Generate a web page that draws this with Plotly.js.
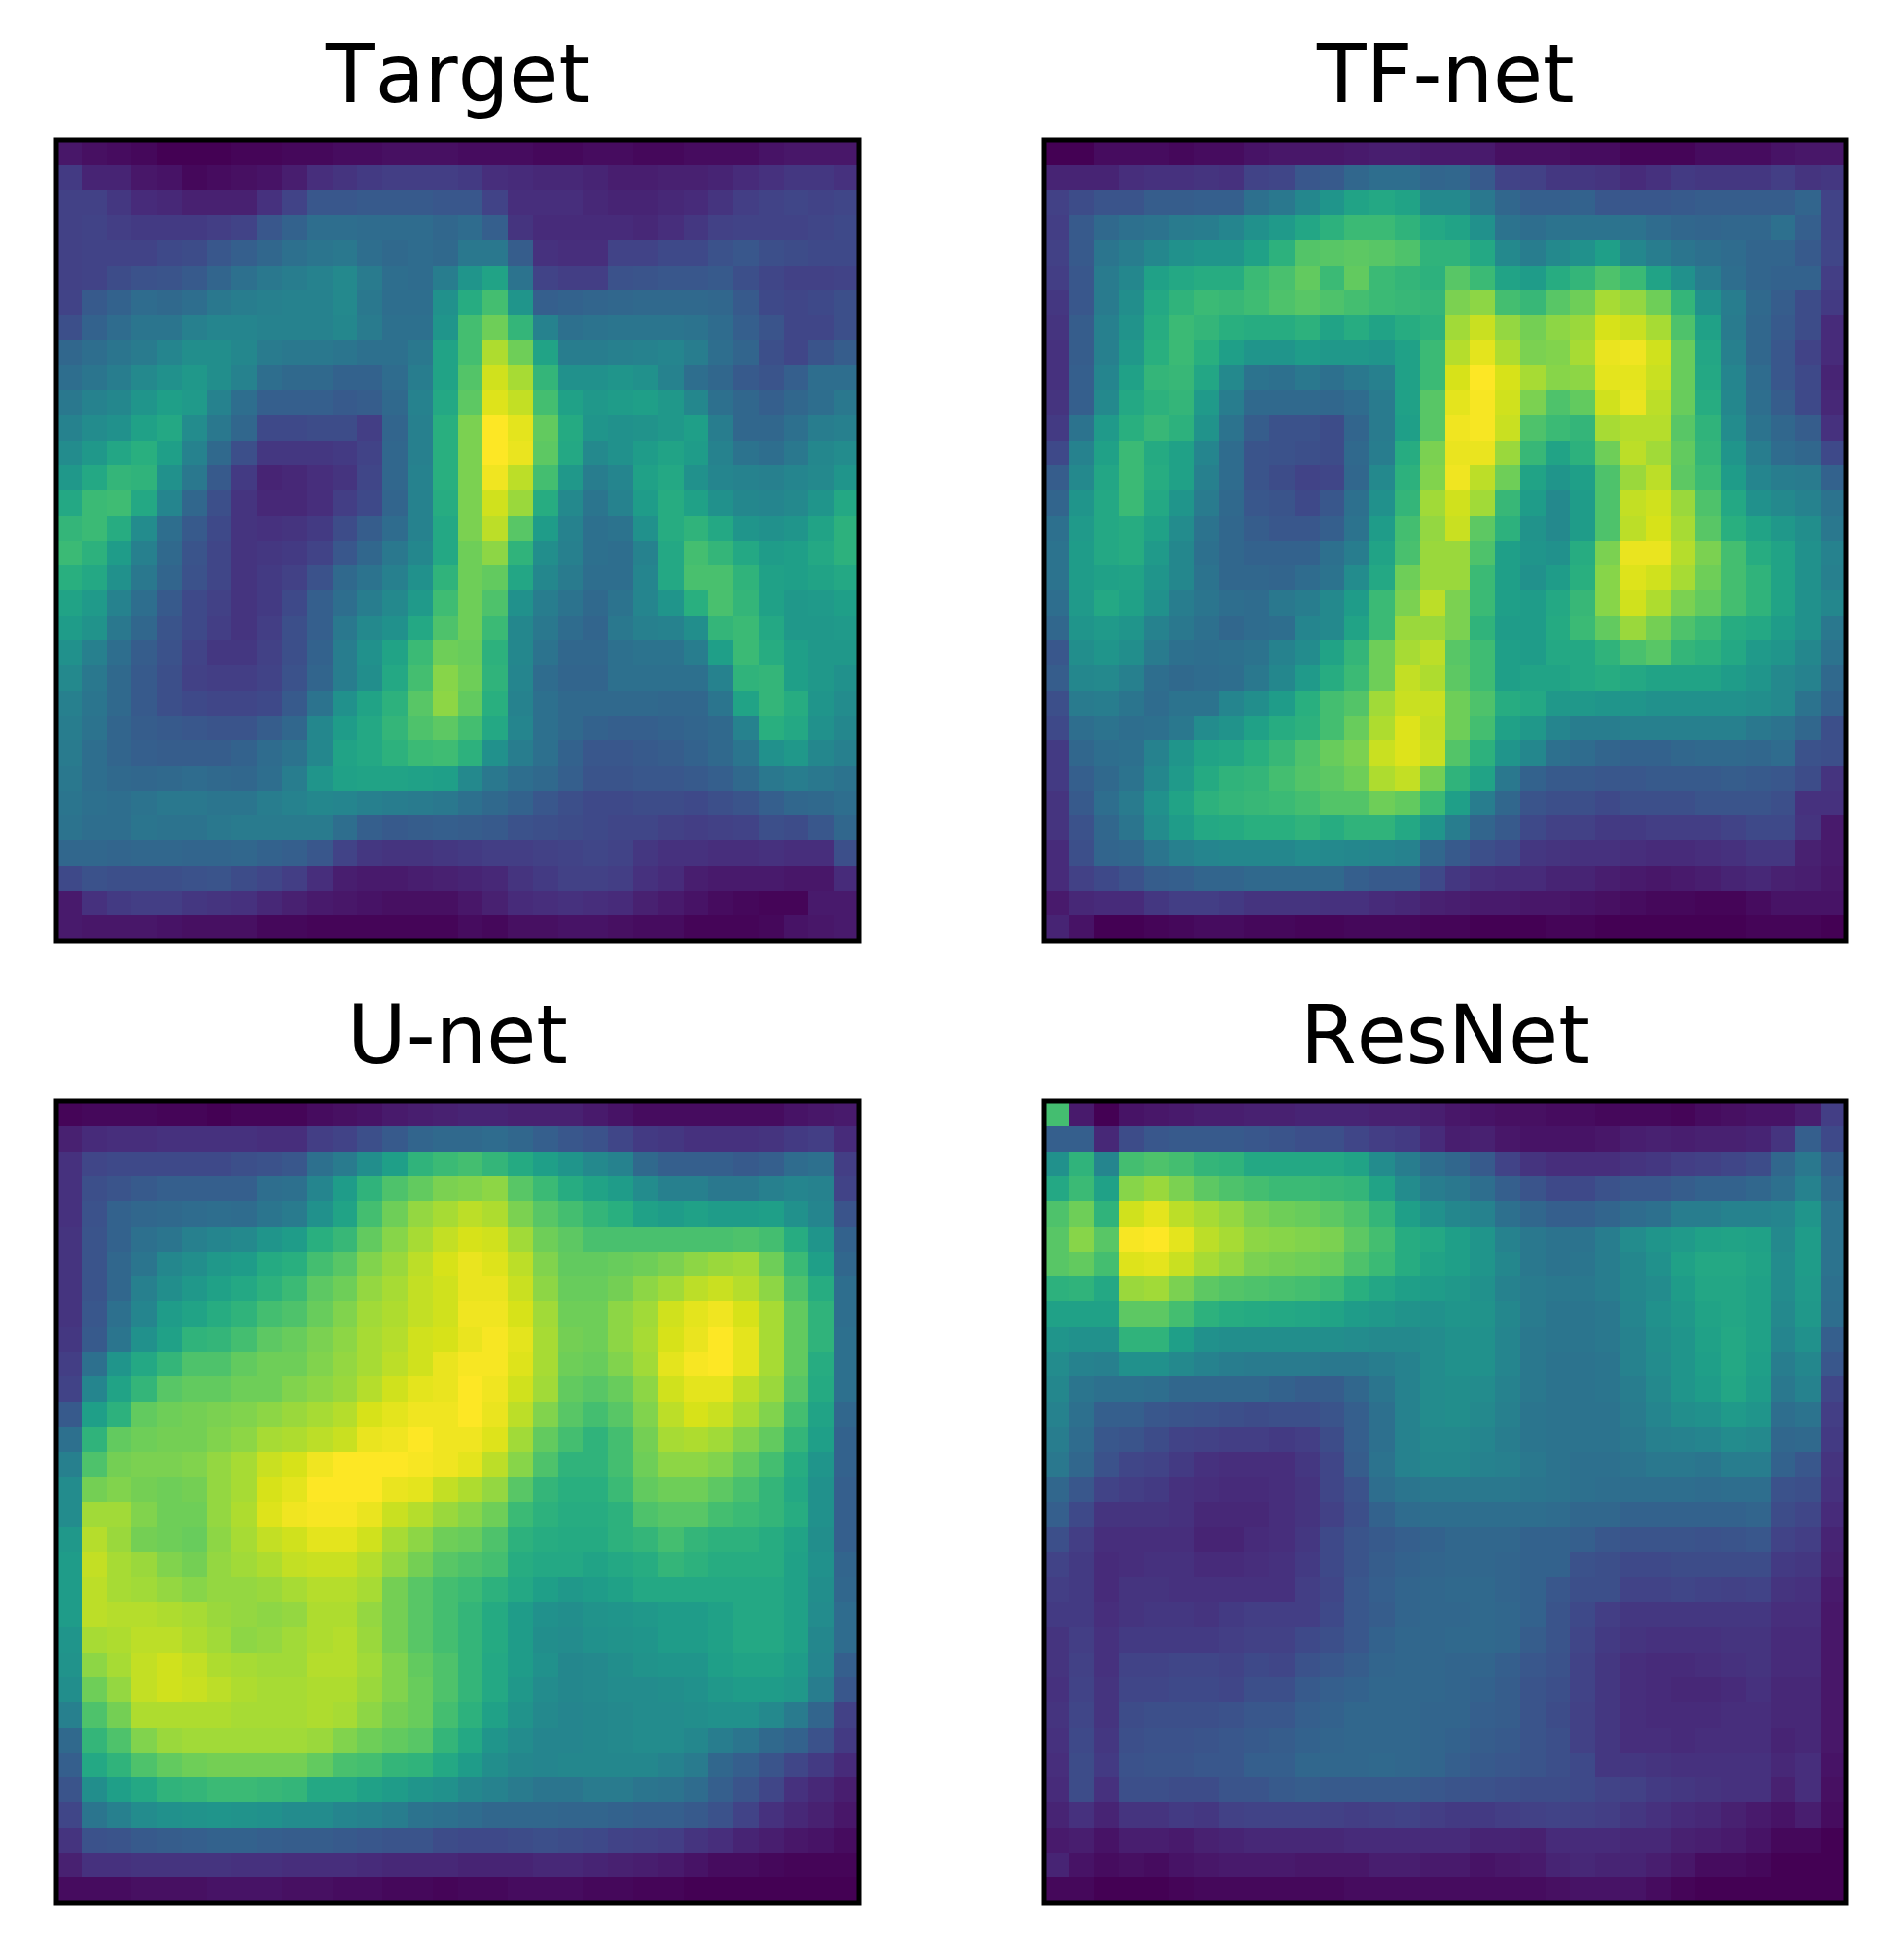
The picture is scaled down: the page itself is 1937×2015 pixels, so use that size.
<!DOCTYPE html>
<html>
<head>
<meta charset="utf-8">
<script src="https://cdn.plot.ly/plotly-3.0.1.min.js"></script>
<style>html,body{margin:0;padding:0;background:#fff}#chart{width:1937px;height:2015px}svg text{font-kerning:none}</style>
</head>
<body>
<div id="chart"></div>
<script>
const panelTitles = ["Target", "TF-net", "U-net", "ResNet"];

const target = [
[6,4,3,2,0,0,0,1,1,2,2,3,3,4,4,4,3,3,3,2,2,3,3,2,2,3,3,3,5,6,6,6],
[17,10,10,6,5,2,3,4,5,8,13,15,17,18,18,18,17,13,12,11,11,10,8,8,9,9,10,12,14,16,16,14],
[19,19,16,12,11,9,9,9,14,20,27,27,28,28,28,27,27,20,13,13,13,11,10,10,11,12,15,18,20,21,20,21],
[19,20,18,17,17,17,18,20,27,31,36,36,35,35,35,33,35,30,15,12,12,12,12,11,13,16,19,20,20,20,21,22],
[19,20,20,20,22,23,27,30,33,37,39,40,36,34,35,34,40,40,29,14,13,13,20,20,22,22,25,27,24,23,22,22],
[19,20,23,25,26,28,32,37,40,42,44,47,41,36,35,42,52,58,38,20,18,18,25,26,27,27,28,24,21,19,19,20],
[20,28,31,35,34,36,40,42,43,44,44,47,40,36,36,50,62,70,52,30,31,32,33,34,34,34,33,28,22,21,22,24],
[24,31,35,39,39,43,45,45,44,44,44,46,41,37,37,52,70,78,66,44,37,38,39,39,39,38,35,30,26,21,21,24],
[33,36,39,41,45,49,49,46,41,40,40,39,37,37,40,58,70,88,78,58,42,42,43,44,45,42,36,32,24,21,26,29],
[36,39,42,47,50,53,49,44,36,34,34,31,31,35,42,58,73,93,87,66,50,50,52,50,44,36,33,28,26,30,36,36],
[40,44,46,52,56,54,44,36,30,30,30,28,29,34,44,60,75,95,91,70,57,53,55,56,53,46,37,33,30,33,36,40],
[44,48,50,57,60,48,40,33,22,22,23,23,18,32,43,63,80,100,96,76,61,52,50,51,53,56,42,33,33,37,42,43],
[48,53,59,63,56,44,34,24,16,16,16,17,20,33,43,63,80,100,97,75,60,47,50,55,58,55,44,38,36,40,46,48],
[53,60,66,65,50,40,28,17,10,11,13,15,21,33,44,63,80,98,90,70,53,42,45,57,60,50,45,44,43,45,47,52],
[60,68,69,60,45,33,24,15,11,11,13,18,22,32,44,62,80,93,85,62,47,39,44,55,62,57,50,46,45,47,52,60],
[66,68,62,48,36,28,22,15,14,15,17,23,29,35,44,60,80,90,74,55,44,37,38,50,62,65,60,52,50,52,58,64],
[68,64,55,43,34,26,21,15,16,17,20,27,33,40,46,60,78,83,65,49,43,37,36,44,60,70,66,60,55,56,60,64],
[63,60,50,40,32,25,21,15,17,19,25,34,38,43,50,65,78,76,59,46,41,36,36,45,60,71,71,65,57,56,58,60],
[58,54,44,36,28,22,19,15,17,22,30,36,42,47,54,69,78,72,50,42,38,34,38,45,52,63,71,66,57,53,54,56],
[55,51,40,33,26,22,18,15,18,24,30,40,47,50,60,72,78,68,46,40,35,32,40,43,44,49,66,68,60,53,53,54],
[50,43,36,29,25,20,16,16,19,24,31,42,50,58,68,78,77,64,46,38,33,33,37,38,38,42,56,68,62,56,53,53],
[47,40,34,28,24,19,18,18,20,25,32,42,49,60,70,82,78,65,45,35,32,32,37,37,37,37,44,65,66,56,53,50],
[43,39,34,28,24,22,21,21,22,28,38,50,58,64,74,83,76,63,44,37,34,34,34,34,33,33,39,58,66,62,52,48],
[42,38,32,29,28,27,26,26,29,33,46,55,60,66,72,75,70,60,45,37,34,31,30,30,31,32,34,44,63,60,50,46],
[41,36,32,30,29,29,29,31,35,38,46,58,60,64,68,69,64,50,42,37,31,27,27,28,29,31,34,39,50,53,46,43],
[40,36,34,33,34,35,34,33,36,42,52,57,58,58,57,56,47,40,36,34,30,26,26,27,27,28,30,34,40,42,40,38],
[39,37,36,38,40,40,39,39,42,44,46,45,43,42,41,40,37,34,31,27,24,22,22,23,23,22,24,26,30,33,34,36],
[38,36,36,39,38,38,40,41,41,41,41,36,30,28,29,30,29,28,25,24,23,22,21,21,19,18,19,20,24,23,27,33],
[33,33,32,33,33,32,32,33,31,30,27,20,16,15,15,16,17,18,18,19,20,21,20,16,14,14,13,13,14,13,13,24],
[22,25,24,24,24,25,26,23,21,18,13,8,7,7,8,9,10,11,15,17,19,19,18,14,12,8,7,7,7,6,6,12],
[7,14,17,18,18,16,15,14,11,9,7,6,5,4,4,4,6,9,12,13,14,13,12,9,7,5,3,2,1,1,7,7],
[7,6,6,6,5,4,4,4,2,2,1,1,1,1,1,1,3,2,4,4,5,5,4,3,3,1,1,1,2,5,6,7]
];

const tfNet = [
[0,0,3,3,3,2,3,3,5,6,6,6,7,8,8,7,7,7,4,4,4,3,3,1,1,1,3,3,3,5,6,6],
[10,10,10,13,14,14,15,14,20,21,27,28,33,36,36,32,33,28,20,19,16,16,15,12,14,17,16,16,16,18,15,16],
[19,23,26,26,29,29,30,30,37,40,46,52,58,60,58,47,47,40,33,30,30,31,27,27,27,28,29,29,29,29,32,20],
[18,28,34,37,38,41,42,45,50,54,59,64,68,68,65,60,58,50,38,36,38,38,38,38,35,33,32,33,33,37,30,20],
[19,28,39,42,46,50,52,52,57,64,73,74,75,74,72,65,65,60,47,42,47,50,56,46,42,39,37,35,32,32,28,21],
[18,27,41,46,57,60,62,62,68,71,76,68,76,68,66,64,74,68,58,55,62,66,72,68,58,50,42,36,32,31,31,18],
[16,27,41,49,60,65,68,67,69,72,74,72,70,68,67,66,80,83,70,67,74,78,87,84,78,66,50,42,34,29,23,17],
[15,29,43,51,62,68,66,63,62,62,64,58,62,58,62,64,86,92,84,79,83,85,94,92,87,72,57,41,33,28,23,12],
[14,29,43,53,63,68,63,56,52,52,55,53,53,52,57,68,89,96,88,80,81,87,97,98,93,77,59,43,33,27,20,12],
[14,30,45,57,66,67,59,47,38,37,40,37,40,43,57,68,94,100,94,87,82,83,96,96,92,77,60,45,35,27,22,10],
[15,30,47,60,64,66,54,42,34,34,34,33,35,41,57,74,96,99,93,80,72,76,93,97,90,77,62,46,36,29,22,11],
[17,38,54,63,67,64,51,38,29,25,25,23,32,41,56,74,98,99,92,72,68,66,87,89,89,74,65,48,38,33,29,14],
[22,44,57,68,61,57,45,35,26,25,24,23,34,42,62,80,97,97,85,67,58,64,78,90,86,76,66,52,42,35,33,22],
[29,47,59,68,62,57,43,35,26,23,20,21,33,47,64,81,98,90,78,58,52,56,72,85,90,75,68,55,45,42,41,31],
[32,52,60,68,60,52,41,34,27,26,22,27,37,50,66,86,93,86,67,55,47,55,72,91,93,85,72,60,50,47,44,38],
[37,54,60,62,57,48,38,33,29,27,27,30,38,55,70,84,92,75,64,51,47,55,72,90,94,87,74,63,58,53,49,40],
[38,55,60,62,54,46,37,33,31,31,31,37,42,58,71,85,85,72,56,52,50,62,80,97,97,89,80,70,62,58,50,44],
[38,55,57,58,52,46,38,33,33,32,35,38,48,60,78,85,85,68,56,50,55,63,82,95,93,87,78,70,65,58,50,43],
[36,54,60,57,50,42,39,36,35,40,42,47,55,68,80,90,80,68,56,55,60,67,82,93,88,80,76,70,65,58,50,46],
[33,52,54,52,44,40,37,33,35,36,45,47,58,68,85,85,80,65,55,55,61,68,76,85,79,72,68,62,60,55,50,40],
[27,49,52,49,41,37,36,37,38,44,48,58,66,78,87,90,74,69,56,55,60,60,65,71,74,66,64,60,54,52,46,38],
[29,46,47,43,36,34,35,36,40,46,54,62,68,78,91,88,75,69,56,58,58,60,62,60,58,58,58,55,52,47,44,34],
[24,41,42,39,35,38,38,45,49,55,63,70,73,86,92,92,78,72,62,60,53,53,52,52,50,50,50,50,49,47,38,31],
[22,36,38,36,37,40,48,51,57,62,64,70,77,88,95,91,78,70,57,53,45,42,42,43,43,43,43,43,40,38,33,24],
[17,33,36,37,44,52,58,59,63,67,72,77,80,92,95,92,73,64,52,46,37,35,32,31,31,33,34,34,33,35,25,24],
[17,30,34,38,46,54,61,65,66,70,73,75,78,88,91,79,65,58,40,31,28,28,27,27,28,28,28,29,28,27,23,15],
[15,28,36,41,50,58,64,66,67,68,70,73,73,78,76,68,56,42,33,26,24,24,22,24,24,24,26,26,26,24,14,14],
[15,25,33,39,48,55,60,61,63,63,65,62,65,65,60,52,42,32,28,22,19,19,17,17,18,18,18,20,22,22,15,7],
[12,24,32,33,39,43,45,46,46,46,48,47,46,45,44,33,28,24,22,16,15,14,14,13,12,12,13,14,16,16,9,7],
[12,19,22,25,29,30,32,32,34,34,34,34,30,28,28,22,16,13,12,12,10,10,8,7,6,7,8,10,11,9,8,6],
[7,11,12,12,16,18,18,17,15,15,15,14,14,12,11,9,8,7,7,6,6,5,4,3,2,2,1,1,3,5,5,5],
[10,5,0,0,1,2,3,3,2,2,1,1,2,2,2,1,1,0,0,0,1,1,0,0,0,0,0,0,1,1,1,0]
];

const uNet = [
[1,2,2,2,1,1,0,1,1,1,3,4,5,7,8,9,10,10,9,9,9,7,5,3,3,3,3,3,3,5,6,7],
[9,12,13,13,14,14,14,14,13,13,18,20,24,28,32,34,34,35,33,30,27,25,21,17,16,14,14,14,15,17,18,12],
[14,21,22,22,22,22,22,24,25,27,37,41,49,56,65,68,70,66,61,56,52,47,44,34,30,30,30,28,30,35,37,18],
[14,24,26,28,30,30,30,30,36,37,45,55,65,72,76,80,81,83,74,68,62,58,55,48,43,43,40,40,43,45,44,20],
[14,25,31,33,34,35,36,35,39,41,50,58,70,78,84,87,90,88,80,74,70,66,63,57,55,57,55,55,56,50,45,26],
[15,26,31,37,39,43,45,47,52,55,63,67,76,82,87,91,94,93,86,78,75,71,71,71,71,71,71,72,70,62,52,31],
[15,26,33,39,46,49,53,55,61,63,70,74,81,85,90,94,97,95,90,81,76,76,77,78,80,83,85,86,78,68,56,33],
[15,26,33,43,49,53,57,60,64,68,75,78,84,87,91,93,97,97,92,83,77,77,79,83,86,90,92,89,83,72,62,36],
[15,27,37,45,55,58,62,65,70,72,77,81,86,88,91,93,98,98,94,86,78,78,83,86,93,96,98,94,87,76,65,36],
[16,28,39,50,57,65,66,70,75,77,80,83,87,89,93,94,97,99,96,87,79,78,83,87,94,97,100,96,87,76,65,37],
[18,37,52,60,66,72,72,76,78,78,81,84,87,90,93,97,99,99,95,87,78,77,81,86,96,99,100,96,87,76,62,37],
[20,45,58,66,74,76,76,78,78,81,83,85,89,93,96,97,100,98,93,86,76,74,77,83,93,96,96,90,85,74,61,37],
[28,56,64,76,78,79,80,81,83,85,87,89,94,96,98,98,100,97,90,81,74,70,74,81,90,94,92,87,81,70,58,33],
[37,65,76,78,79,79,81,83,87,88,90,92,97,98,100,98,98,95,86,76,70,65,70,79,87,88,86,81,76,66,56,31],
[43,72,79,80,80,81,84,87,92,94,98,100,100,100,99,98,96,90,82,72,65,65,70,78,83,83,81,76,70,62,52,31],
[48,79,81,79,78,79,84,87,94,96,100,100,100,97,96,91,88,84,74,66,63,63,68,76,78,78,75,71,66,60,50,30],
[48,86,86,81,78,78,84,88,95,98,99,99,97,92,89,85,82,78,68,64,62,62,64,72,74,74,70,68,66,62,50,30],
[53,89,85,79,78,77,83,87,91,93,96,96,93,87,83,78,77,72,64,62,61,61,64,66,70,66,64,64,62,58,49,30],
[55,91,87,85,81,79,84,86,88,91,92,92,89,84,79,74,72,70,62,60,60,58,60,62,66,64,62,62,62,57,50,32],
[55,90,87,86,84,82,84,84,85,87,89,89,87,79,74,70,68,64,60,56,53,55,57,60,60,60,60,60,60,57,49,33],
[55,90,89,89,88,87,85,84,83,84,88,88,84,79,74,70,66,61,55,50,49,51,52,53,55,55,57,60,60,57,48,35],
[52,87,88,90,90,88,86,83,84,86,88,89,85,79,74,70,66,61,55,49,48,50,51,52,55,55,57,60,60,57,46,35],
[51,83,87,91,93,91,88,87,86,86,89,89,86,81,76,72,66,60,55,50,46,47,49,51,52,52,56,58,58,55,45,30],
[49,78,84,91,93,92,90,88,87,87,88,88,85,81,77,72,66,60,53,48,46,47,48,48,49,50,53,55,55,53,42,27],
[43,72,79,88,88,88,88,87,87,87,88,87,83,79,77,70,64,57,51,47,45,46,47,48,48,49,50,50,47,41,32,19],
[34,66,72,81,85,86,86,86,86,86,85,81,78,76,74,66,60,52,48,45,45,46,47,48,48,46,42,39,34,31,25,17],
[30,60,65,72,76,78,79,79,79,79,76,71,70,66,65,60,55,49,46,45,46,46,46,46,44,41,33,30,26,21,17,12],
[26,49,56,60,65,66,68,68,67,66,60,60,57,55,52,50,46,44,41,39,39,41,41,39,38,35,30,26,21,14,11,8],
[21,39,43,48,50,51,52,51,50,48,48,45,44,42,38,37,35,33,33,33,32,32,31,30,30,28,25,20,14,11,9,6],
[15,25,26,28,29,30,31,31,30,29,29,28,27,26,26,23,22,22,23,24,23,22,20,19,18,15,13,10,8,6,5,3],
[9,14,14,15,15,15,15,14,14,13,13,13,12,11,11,11,10,10,10,11,11,10,9,8,7,5,3,3,2,1,1,1],
[3,3,3,4,4,4,5,5,5,4,4,3,3,2,2,1,2,2,3,3,3,2,2,1,1,0,0,0,0,0,0,0]
];

const resNet = [
[70,7,0,5,6,7,8,8,9,9,10,10,10,9,9,8,6,5,4,4,3,3,2,2,2,1,3,4,5,5,8,18],
[30,30,11,23,27,28,28,28,27,26,24,24,21,18,17,12,8,9,6,5,5,5,6,8,9,8,9,9,10,15,30,22],
[50,65,45,70,72,70,66,65,60,60,60,60,58,48,42,36,33,28,20,15,13,13,13,15,16,18,19,21,23,33,40,30],
[60,68,57,82,85,80,75,72,70,68,68,67,66,58,48,42,40,36,30,26,22,22,25,27,27,29,31,31,33,37,44,34],
[72,78,65,93,96,90,87,84,80,78,77,75,72,66,56,50,46,44,37,33,30,30,32,35,37,42,42,44,44,45,52,38],
[74,82,74,99,100,96,90,87,83,82,81,80,75,70,62,60,56,52,44,40,38,38,42,48,52,54,57,58,57,47,55,38],
[74,76,70,95,96,92,87,84,80,79,78,77,72,68,62,58,56,52,46,40,38,39,42,46,50,57,60,60,58,48,55,38],
[64,65,60,85,86,80,75,73,72,71,70,68,63,59,56,55,53,50,44,41,40,40,42,46,48,55,59,59,57,48,54,37],
[57,57,57,75,75,70,64,62,61,60,59,58,55,53,51,50,52,51,46,41,39,39,40,45,50,53,58,59,57,47,53,36],
[52,50,50,65,65,56,50,49,49,49,49,49,48,47,47,48,50,50,45,40,39,39,40,44,49,52,57,60,57,45,50,30],
[48,44,43,50,50,47,44,42,41,41,41,40,40,42,44,48,50,50,45,40,38,38,39,44,48,52,56,60,56,42,46,27],
[46,39,37,37,36,33,33,33,33,31,29,29,33,39,44,48,49,48,44,40,38,38,39,42,47,52,55,59,55,40,44,21],
[44,37,30,30,27,26,25,24,23,24,24,26,30,37,44,48,49,47,43,39,38,38,38,41,45,49,50,54,52,36,38,18],
[42,35,27,26,23,20,19,18,18,17,18,23,30,37,44,47,47,45,42,39,38,38,38,40,43,44,45,48,47,33,34,17],
[40,33,25,21,20,17,14,13,13,13,16,21,29,38,44,46,46,44,43,40,38,37,37,38,40,40,39,42,42,31,27,15],
[33,27,20,18,17,14,13,12,12,13,15,21,25,36,39,40,40,40,40,39,38,37,36,36,36,36,35,36,36,25,24,14],
[30,22,15,15,15,14,11,11,11,13,15,19,24,31,35,36,36,36,36,36,35,33,33,31,31,31,31,31,32,23,21,12],
[24,18,13,13,13,13,10,10,12,13,16,22,26,28,30,31,33,33,33,31,31,30,27,26,26,26,25,26,27,20,18,10],
[20,17,12,13,14,14,12,12,13,14,17,22,26,29,31,32,33,33,32,31,31,25,24,22,22,23,23,23,23,17,16,9],
[18,17,12,15,15,14,14,14,14,14,18,21,27,30,32,33,34,34,32,31,27,24,24,20,20,21,20,19,20,15,14,7],
[17,17,13,15,16,16,15,17,18,18,18,22,27,29,32,33,33,34,33,31,26,22,18,16,16,16,16,16,16,13,13,6],
[15,18,14,17,17,17,17,18,19,19,22,24,27,31,33,33,34,34,33,29,26,21,17,15,14,14,14,15,15,12,12,6],
[15,19,14,20,20,21,21,20,22,21,25,27,29,32,33,33,32,32,30,27,25,20,16,13,12,12,13,14,15,12,12,6],
[14,20,15,21,21,22,22,21,24,24,28,30,31,33,33,33,32,31,29,26,24,20,16,13,12,11,11,12,14,11,11,6],
[15,21,15,23,24,24,24,25,27,27,30,31,33,33,33,32,32,30,29,26,23,19,16,13,12,12,12,13,13,11,11,6],
[14,22,16,24,25,25,26,27,28,29,31,32,33,33,33,32,31,29,28,26,24,19,16,13,13,12,13,13,13,10,11,6],
[13,23,17,25,26,26,27,27,30,30,33,33,33,34,33,32,30,28,27,26,24,22,16,16,15,14,14,14,14,11,13,5],
[12,23,14,24,24,23,23,26,26,28,29,28,28,28,28,27,26,25,24,23,23,22,20,19,17,16,15,14,14,9,13,4],
[10,14,10,15,15,17,16,19,20,20,20,19,18,19,20,18,17,17,18,19,20,19,18,16,14,12,11,9,7,5,8,3],
[7,8,5,8,8,7,9,10,11,11,11,11,12,12,12,12,12,10,10,9,12,12,12,11,11,9,8,7,5,2,2,0],
[10,5,3,4,3,5,6,7,7,7,6,6,6,8,8,7,7,5,6,7,10,11,10,10,8,6,3,3,2,0,0,0],
[2,2,0,0,0,1,2,2,2,2,2,2,3,3,3,3,3,3,3,3,4,5,5,5,3,1,0,0,0,0,0,0]
];

const W = 1937, H = 2015, FRAME = 5;
const leftX = [58, 883], rightX = [1073, 1898];
const topY = [144, 967], botY = [1132, 1956];

const sets = [[target, leftX, topY], [tfNet, rightX, topY], [uNet, leftX, botY], [resNet, rightX, botY]];
const traces = [], layout = {
  width: W, height: H, margin: {l:0, r:0, t:0, b:0, pad:0},
  paper_bgcolor: "#fff", plot_bgcolor: "#fff", showlegend: false, annotations: [], shapes: []
};
sets.forEach((s, i) => {
  const n = i + 1, sfx = n === 1 ? "" : String(n);
  const dx = [s[1][0] / W, s[1][1] / W], dy = [1 - s[2][1] / H, 1 - s[2][0] / H];
  traces.push({type: "heatmap", z: s[0], xaxis: "x" + sfx, yaxis: "y" + sfx,
    colorscale: "Viridis", zmin: 0, zmax: 100, showscale: false});
  const ax = {showline: false, ticks: "", showticklabels: false, showgrid: false, zeroline: false};
  layout["xaxis" + sfx] = Object.assign({}, ax, {domain: dx, anchor: "y" + sfx, range: [-0.5, 31.5]});
  layout["yaxis" + sfx] = Object.assign({}, ax, {domain: dy, anchor: "x" + sfx, range: [31.5, -0.5]});
  layout.shapes.push({type: "rect", xref: "paper", yref: "paper", layer: "above",
    x0: dx[0], x1: dx[1], y0: dy[0], y1: dy[1], line: {color: "#000", width: FRAME}, fillcolor: "rgba(0,0,0,0)"});
  layout.annotations.push({text: panelTitles[i], xref: "paper", yref: "paper", showarrow: false,
    x: (s[1][0] + s[1][1]) / 2 / W, y: 1 - (s[2][0] - 68) / H, xanchor: "center", yanchor: "middle",
    font: {family: "DejaVu Sans", size: 83, color: "#000"}});
});
Plotly.newPlot("chart", traces, layout, {displayModeBar: false, staticPlot: true});
</script>
</body>
</html>
